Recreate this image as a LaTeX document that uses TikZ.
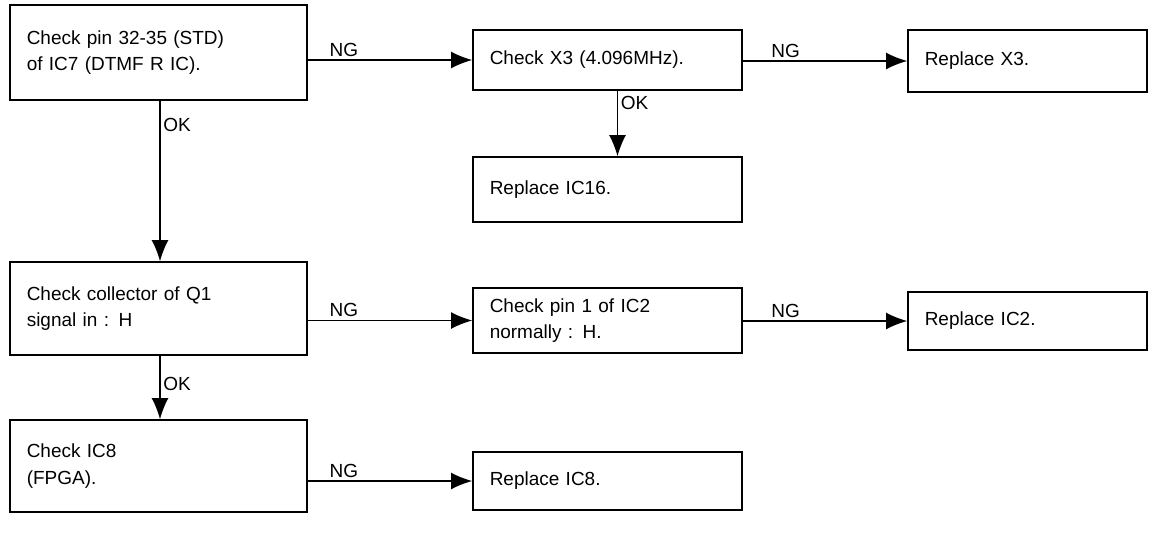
\documentclass[tikz,border=0pt]{standalone}
\usepackage{fontspec}
\setmainfont{Liberation Sans}
\usetikzlibrary{arrows.meta, positioning, calc}

\begin{document}
\begin{tikzpicture}[x=0.025cm, y=-0.025cm,
    every node/.style={font=\fontsize{13.5}{19}\selectfont},
    box/.style={draw, line width=1.1pt, align=left, inner xsep=0.42cm, anchor=center},
    wide/.style={box, text width=6.585cm, minimum width=7.425cm},
    mid/.style={box, text width=5.885cm, minimum width=6.725cm},
    narrow/.style={box, text width=5.135cm, minimum width=5.975cm},
    link/.style={-{Latex[length=15pt, width=12pt]}, line width=0.9pt},
    tag/.style={inner sep=2pt}]
    \useasboundingbox (0,0) rectangle (1153,542);

    % --- left column ---
    \node[wide, minimum height=2.375cm] (pin) at (158.5,52.5) {Check pin 32-35 (STD)\\of IC7 (DTMF R IC).};
    \node[wide, minimum height=2.325cm] (col) at (158.5,308.5) {Check collector of Q1\\signal in : H};
    \node[wide, minimum height=2.3cm] (fpga) at (158.5,466) {Check IC8\\(FPGA).};

    % --- middle column ---
    \node[mid, minimum height=1.5cm] (xtal) at (607.5,60) {Check X3 (4.096MHz).};
    \node[mid, minimum height=1.625cm] (ic16) at (607.5,189.5) {Replace IC16.};
    \node[mid, minimum height=1.625cm] (ictwo) at (607.5,320.5) {Check pin 1 of IC2\\normally : H.};
    \node[mid, minimum height=1.45cm] (ic8) at (607.5,481) {Replace IC8.};

    % --- right column ---
    \node[narrow, minimum height=1.55cm] (x3) at (1027.5,61) {Replace X3.};
    \node[narrow, minimum height=1.45cm] (ic2) at (1027.5,321) {Replace IC2.};

    % --- connectors ---
    \draw[link] (pin.east |- xtal.west) -- node[pos=0.22, above, tag] {NG} (xtal.west);
    \draw[link] (xtal.east |- x3.west) -- node[pos=0.26, above, tag] {NG} (x3.west);
    \draw[link] (xtal) ++(10,30) coordinate (xb) (xb) -- node[pos=0.2, right, tag] {OK} (xb |- ic16.north);
    \draw[link] (pin.south) ++(1.5,0) coordinate (pb) (pb) -- node[pos=0.15, right, tag] {OK} (pb |- col.north);
    \draw[link] (col.east |- ictwo.west) -- node[pos=0.22, above, tag] {NG} (ictwo.west);
    \draw[link] (ictwo.east |- ic2.west) -- node[pos=0.26, above, tag] {NG} (ic2.west);
    \draw[link] (col.south) ++(1.5,0) coordinate (cb) (cb) -- node[pos=0.45, right, tag] {OK} (cb |- fpga.north);
    \draw[link] (fpga.east |- ic8.west) -- node[pos=0.22, above, tag] {NG} (ic8.west);
\end{tikzpicture}
\end{document}
